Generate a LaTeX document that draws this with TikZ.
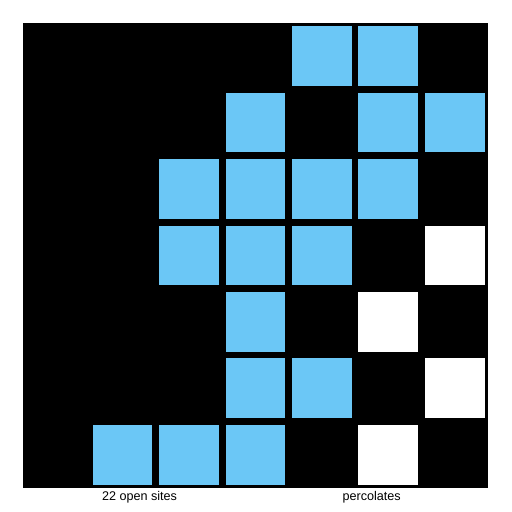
\documentclass[tikz,border=0pt]{standalone}
\usepackage{fontspec}
\setmainfont{Liberation Sans}
\usepackage{xcolor}
\definecolor{siteblue}{RGB}{107,199,246}

\begin{document}
\begin{tikzpicture}[
  full/.style={rectangle,fill=siteblue,minimum size=0.9cm,inner sep=0pt},
  open/.style={rectangle,fill=white,minimum size=0.9cm,inner sep=0pt},
  caption/.style={anchor=base,inner sep=0pt,font=\fontsize{5.4}{6}\selectfont}
]
  \useasboundingbox (-0.346,-0.364) rectangle (7.364,7.346);
  \fill[black] (0,0) rectangle (7,7);
  % row 0
  \node[full] (s04) at (4.5,6.5) {};
  \node[full] (s05) at (5.5,6.5) {};
  % row 1
  \node[full] (s13) at (3.5,5.5) {};
  \node[full] (s15) at (5.5,5.5) {};
  \node[full] (s16) at (6.5,5.5) {};
  % row 2
  \node[full] (s22) at (2.5,4.5) {};
  \node[full] (s23) at (3.5,4.5) {};
  \node[full] (s24) at (4.5,4.5) {};
  \node[full] (s25) at (5.5,4.5) {};
  % row 3
  \node[full] (s32) at (2.5,3.5) {};
  \node[full] (s33) at (3.5,3.5) {};
  \node[full] (s34) at (4.5,3.5) {};
  \node[open] (s36) at (6.5,3.5) {};
  % row 4
  \node[full] (s43) at (3.5,2.5) {};
  \node[open] (s45) at (5.5,2.5) {};
  % row 5
  \node[full] (s53) at (3.5,1.5) {};
  \node[full] (s54) at (4.5,1.5) {};
  \node[open] (s56) at (6.5,1.5) {};
  % row 6
  \node[full] (s61) at (1.5,0.5) {};
  \node[full] (s62) at (2.5,0.5) {};
  \node[full] (s63) at (3.5,0.5) {};
  \node[open] (s65) at (5.5,0.5) {};
  % labels
  \node[caption] (count) at (1.755,-0.184) {22 open sites};
  \node[caption] (result) at (5.25,-0.184) {percolates};
\end{tikzpicture}
\end{document}
